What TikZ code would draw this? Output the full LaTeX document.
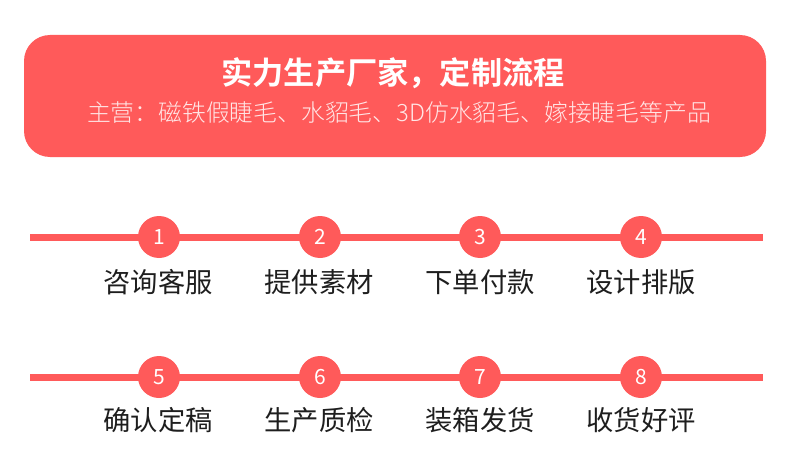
\documentclass[tikz,border=0pt]{standalone}
\usepackage{fontspec}
\setmainfont{Noto Sans CJK SC}[BoldFont={Noto Sans CJK SC Bold}]
\newfontfamily\cjklight{Noto Sans CJK SC Light}
\definecolor{brand}{HTML}{FF5A5A}
\definecolor{subtxt}{HTML}{FFE6E6}
\definecolor{ink}{HTML}{1E1E1E}
\begin{document}
\begin{tikzpicture}[x=1pt,y=-1pt,
  flowline/.style={draw=brand,line width=7pt},
  stepdot/.style={circle,fill=brand,minimum size=42pt,inner sep=0pt,text=white,font=\fontsize{21}{21}\selectfont},
  steplabel/.style={text=ink,font=\fontsize{27.3}{27.3}\selectfont,inner sep=0pt},
]
\useasboundingbox (0,0) rectangle (790,452);
\node[fill=brand,rounded corners=26pt,minimum width=742pt,minimum height=122pt,inner sep=0pt] (header) at (395,96) {};
\node[text=white,font=\fontsize{31.2}{31.2}\selectfont\bfseries,inner sep=0pt] (title) at (393,73) {实力生产厂家，定制流程};
\node[text=subtxt,font=\cjklight\fontsize{23.8}{23.8}\selectfont,inner sep=0pt] (subtitle) at (399,112) {主营：磁铁假睫毛、水貂毛、3D仿水貂毛、嫁接睫毛等产品};
% row 1
\coordinate (l1a) at (30,237);
\coordinate (l1b) at (763,237);
\draw[flowline] (l1a) -- (l1b);
\node[stepdot] (s1) at (159,237) {1};
\node[stepdot] (s2) at (320,237) {2};
\node[stepdot] (s3) at (480,237) {3};
\node[stepdot] (s4) at (641,237) {4};
\node[steplabel] (t1) at (158,282) {咨询客服};
\node[steplabel] (t2) at (319,282) {提供素材};
\node[steplabel] (t3) at (480,282) {下单付款};
\node[steplabel] (t4) at (641,282) {设计排版};
% row 2
\coordinate (l2a) at (30,377);
\coordinate (l2b) at (763,377);
\draw[flowline] (l2a) -- (l2b);
\node[stepdot] (s5) at (159,377) {5};
\node[stepdot] (s6) at (320,377) {6};
\node[stepdot] (s7) at (480,377) {7};
\node[stepdot] (s8) at (641,377) {8};
\node[steplabel] (t5) at (158,420) {确认定稿};
\node[steplabel] (t6) at (319,420) {生产质检};
\node[steplabel] (t7) at (480,420) {装箱发货};
\node[steplabel] (t8) at (641,420) {收货好评};
\end{tikzpicture}
\end{document}
